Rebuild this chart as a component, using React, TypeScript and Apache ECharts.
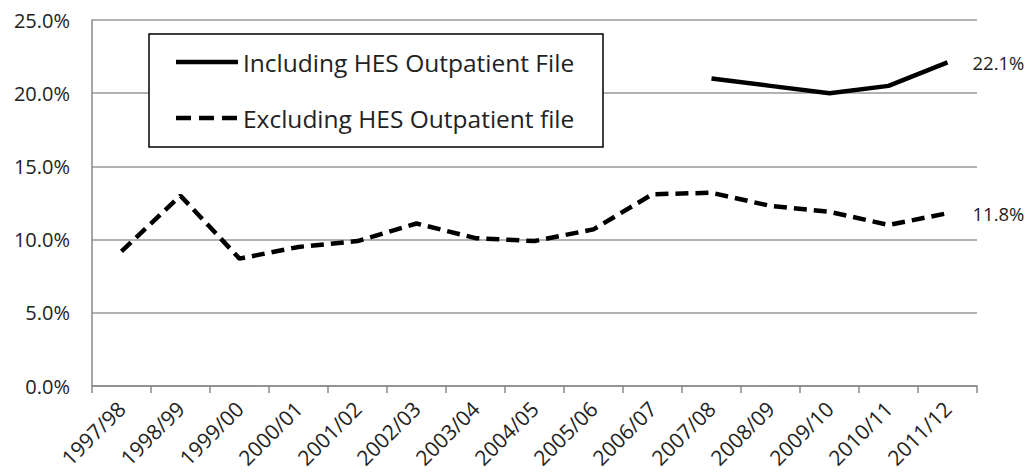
import React, { useEffect, useRef } from "react";
import * as echarts from "echarts";

const categories = [
  "1997/98", "1998/99", "1999/00", "2000/01", "2001/02", "2002/03", "2003/04",
  "2004/05", "2005/06", "2006/07", "2007/08", "2008/09", "2009/10", "2010/11", "2011/12",
];
const includingName = "Including HES Outpatient File";
const excludingName = "Excluding HES Outpatient file";
const includingValues: (number | null)[] = [
  null, null, null, null, null, null, null, null, null, null, 21.0, 20.5, 20.0, 20.5, 22.1,
];
const excludingValues: number[] = [
  9.2, 13.0, 8.7, 9.5, 9.9, 11.1, 10.1, 9.9, 10.7, 13.1, 13.2, 12.3, 11.9, 11.0, 11.8,
];
const yTicks = { min: 0, max: 25, interval: 5 };

const FONT = "'Open Sans', 'Noto Sans', sans-serif";
const TEXT = "#222";

export default function App() {
  const ref = useRef<HTMLDivElement>(null);
  useEffect(() => {
    if (!ref.current) return;
    const chart = echarts.init(ref.current, null, { renderer: "svg" });
    const endLabel = {
      show: true,
      distance: 25,
      fontFamily: FONT,
      fontSize: 18.5,
      color: TEXT,
      formatter: (p: any) => `${Number(p.value).toFixed(1)}%`,
    };
    chart.setOption({
      animation: false,
      backgroundColor: "#fff",
      grid: { left: 92, right: 52, top: 20, bottom: 86, containLabel: false },
      graphic: [
        {
          type: "rect",
          shape: { x: 149, y: 34, width: 454, height: 113 },
          style: { fill: "#fff", stroke: "#000", lineWidth: 1.5 },
          z: 10,
        },
        {
          type: "line",
          shape: { x1: 176, y1: 62, x2: 238, y2: 62 },
          style: { stroke: "#000", lineWidth: 4.5 },
          z: 11,
        },
        {
          type: "line",
          shape: { x1: 176, y1: 118, x2: 238, y2: 118 },
          style: { stroke: "#000", lineWidth: 4.5, lineDash: [15, 8] },
          z: 11,
        },
        {
          type: "text",
          x: 243,
          y: 62,
          style: {
            text: includingName,
            font: `24.5px ${FONT}`,
            fill: TEXT,
            verticalAlign: "middle",
            align: "left",
          },
          z: 11,
        },
        {
          type: "text",
          x: 243,
          y: 118,
          style: {
            text: excludingName,
            font: `24.5px ${FONT}`,
            fill: TEXT,
            verticalAlign: "middle",
            align: "left",
          },
          z: 11,
        },
      ],
      xAxis: {
        type: "category",
        data: categories,
        boundaryGap: true,
        axisLine: { lineStyle: { color: "#888", width: 1.5 } },
        axisTick: { show: true, length: 7, lineStyle: { color: "#888", width: 1.5 } },
        axisLabel: {
          rotate: 45,
          interval: 0,
          margin: 19,
          fontFamily: FONT,
          fontSize: 21,
          color: TEXT,
        },
        splitLine: { show: false },
      },
      yAxis: {
        type: "value",
        min: yTicks.min,
        max: yTicks.max,
        interval: yTicks.interval,
        axisLine: { show: true, lineStyle: { color: "#888", width: 1.5 } },
        axisTick: { show: false },
        axisLabel: {
          margin: 22,
          fontFamily: FONT,
          fontSize: 20,
          color: TEXT,
          formatter: (v: number) => `${v.toFixed(1)}%`,
        },
        splitLine: { show: true, lineStyle: { color: "#999", width: 1.5 } },
      },
      series: [
        {
          name: includingName,
          type: "line",
          data: includingValues,
          symbol: "none",
          showSymbol: false,
          connectNulls: false,
          lineStyle: { color: "#000", width: 4.5 },
          itemStyle: { color: "#000" },
          endLabel,
        },
        {
          name: excludingName,
          type: "line",
          data: excludingValues,
          symbol: "none",
          showSymbol: false,
          lineStyle: { color: "#000", width: 4.5, type: [13, 7] },
          itemStyle: { color: "#000" },
          endLabel,
        },
      ],
    });
    return () => chart.dispose();
  }, []);
  return <div ref={ref} style={{ width: 1029, height: 472, position: "absolute", left: 0, top: 0 }} />;
}
